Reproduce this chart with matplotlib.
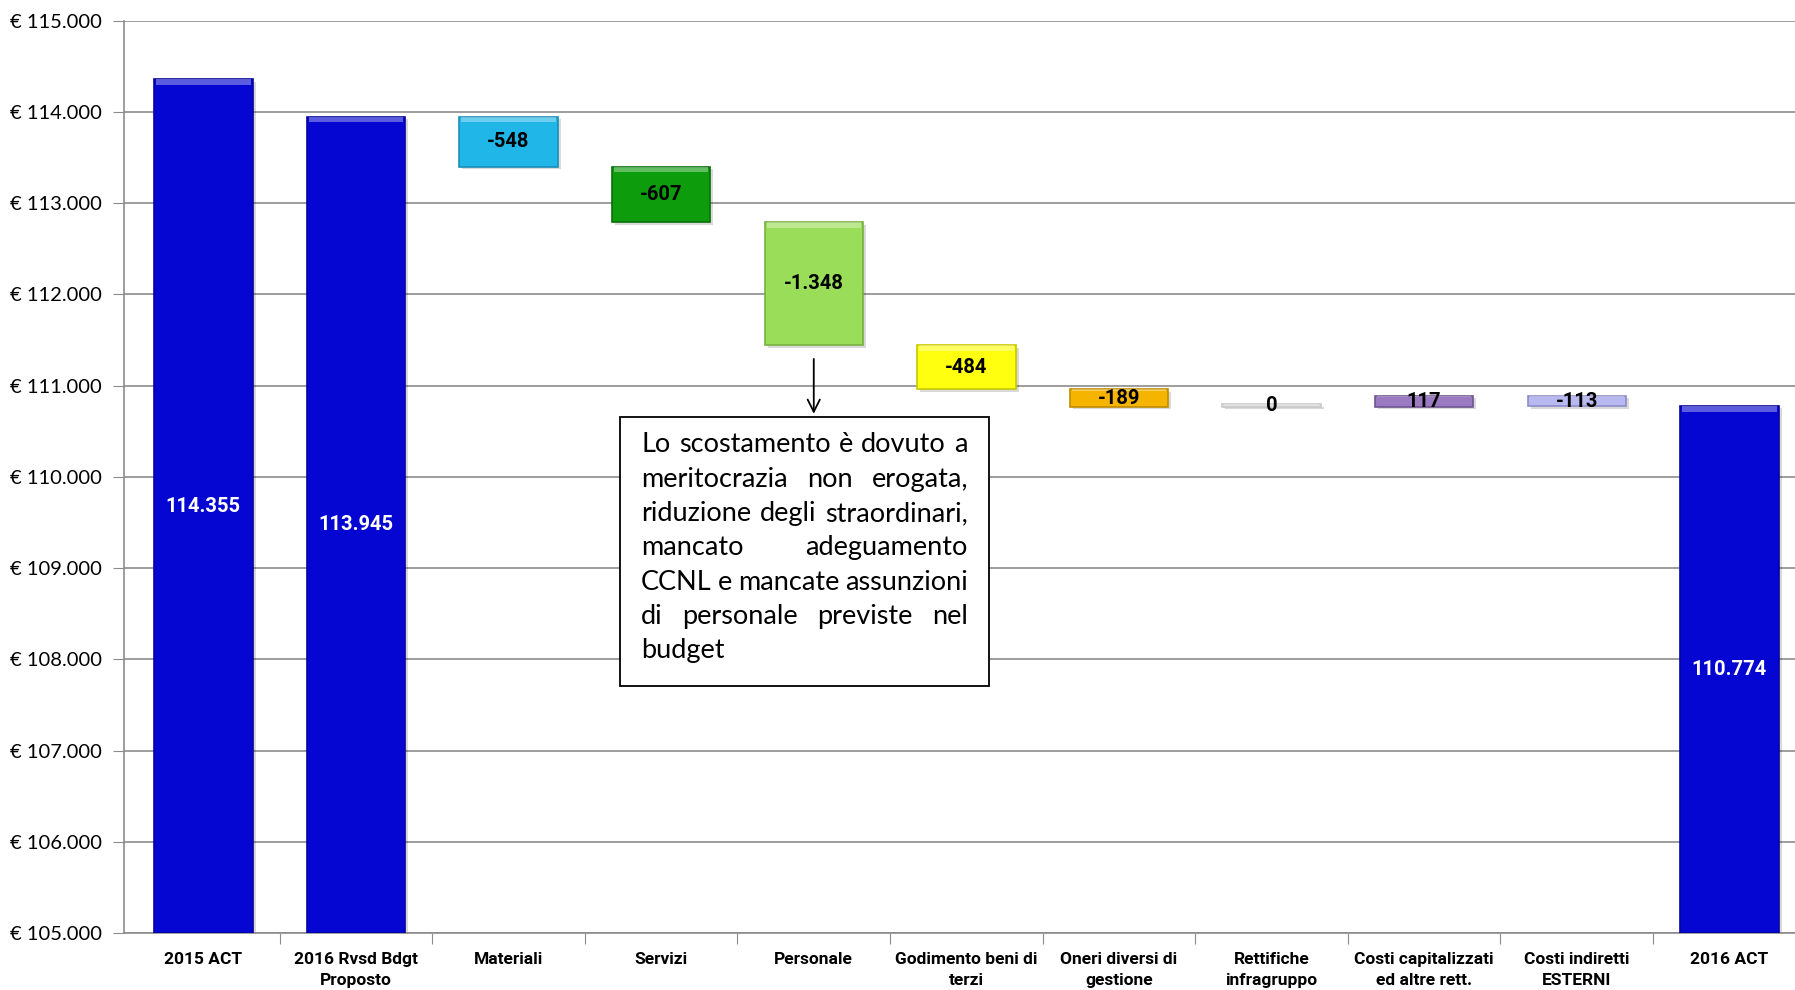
import matplotlib
matplotlib.use("Agg")
import matplotlib.pyplot as plt
from matplotlib import font_manager as fm
from matplotlib.ticker import FuncFormatter, FixedLocator
from matplotlib.patches import Rectangle

available = {f.name for f in fm.fontManager.ttflist}
FONT = "Lato" if "Lato" in available else "Open Sans"
BOLD_FONT = "Roboto" if "Roboto" in available else "Open Sans"
plt.rcParams['font.family'] = [FONT, 'DejaVu Sans']

categories = ["2015 ACT", "2016 Rvsd Bdgt\nProposto", "Materiali", "Servizi", "Personale",
              "Godimento beni di\nterzi", "Oneri diversi di\ngestione", "Rettifiche\ninfragruppo",
              "Costi capitalizzati\ned altre rett.", "Costi indiretti\nESTERNI", "2016 ACT"]
totals = {0: 114355, 1: 113945, 10: 110774}
deltas = {2: -548, 3: -607, 4: -1348, 5: -484, 6: -189, 7: 0, 8: 117, 9: -113}
labels = ["114.355", "113.945", "-548", "-607", "-1.348", "-484", "-189", "0", "117", "-113", "110.774"]
colors = ["#0606D2", "#0606D2", "#20B6E8", "#0C9C0C", "#9ADD58", "#FFFF10",
          "#F4B400", "#E2E2E2", "#9A7BC2", "#B9B9F2", "#0606D2"]
edge_colors = ["#0404A0", "#0404A0", "#1A8FB8", "#087008", "#78B040", "#C8C800",
               "#C08C00", "#C8C8C8", "#705490", "#8C8CC8", "#0404A0"]
annotation_lines = ["Lo scostamento è dovuto a", "meritocrazia non erogata,",
                    "riduzione degli straordinari,", "mancato adeguamento",
                    "CCNL e mancate assunzioni", "di personale previste nel", "budget"]
ymin, ymax = 105000, 115000

W, H = 1795, 990
fig = plt.figure(figsize=(W / 100, H / 100), dpi=100)
ax = fig.add_axes([124 / W, 1 - 933 / H, 1 - 124 / W, (933 - 20.6) / H])
ax.set_ylim(ymin, ymax)
ax.set_xlim(-0.52, 10.43)

bottoms, heights = [], []
level = None
for i in range(len(categories)):
    if i in totals:
        level = totals[i]
        bottoms.append(ymin)
        heights.append(level - ymin)
    else:
        d = deltas[i]
        new = level + d
        bottoms.append(min(level, new))
        heights.append(abs(d) if d != 0 else 25)
        level = new

xs = list(range(len(categories)))
bw = 0.645
# shadow
ax.bar([x + 0.02 for x in xs], heights, bottom=[b - 25 for b in bottoms], width=bw,
       color="#000000", alpha=0.15, zorder=2, linewidth=0)
ax.bar(xs, heights, bottom=bottoms, width=bw, color=colors, edgecolor=edge_colors,
       linewidth=1.2, zorder=3)
# top highlight (bevel)
hl = [min(h * 0.12, 60) for h in heights]
ax.bar(xs, hl, bottom=[b + h - t for b, h, t in zip(bottoms, heights, hl)], width=bw * 0.96,
       color="white", alpha=0.35, linewidth=0, zorder=4)

for i, (x, b, h, lab) in enumerate(zip(xs, bottoms, heights, labels)):
    col = "white" if i in totals else "black"
    ax.text(x, b + h / 2, lab, ha="center", va="center", color=col,
            fontsize=14.5, fontweight="bold", family=[BOLD_FONT, "DejaVu Sans"], zorder=5)

# axes styling
ax.yaxis.set_major_locator(FixedLocator(range(ymin, ymax + 1, 1000)))
ax.yaxis.set_major_formatter(FuncFormatter(lambda v, p: "€ " + f"{int(v):,}".replace(",", ".")))
ax.grid(axis="y", color="#8C8C8C", linewidth=1.2, zorder=0)
ax.set_axisbelow(True)
for s in ["top", "right"]:
    ax.spines[s].set_visible(False)
for s in ["left", "bottom"]:
    ax.spines[s].set_color("#8C8C8C")
    ax.spines[s].set_linewidth(1.2)
ax.tick_params(axis="y", length=8, color="#8C8C8C", labelsize=14.5, pad=8)
ax.set_xticks([x + 0.5 for x in xs[:-1]])
ax.set_xticklabels([])
ax.tick_params(axis="x", length=8, color="#8C8C8C")
ax.set_xticks(xs, minor=True)
ax.set_xticklabels(categories, minor=True, fontsize=12.5, fontweight="bold",
                   family=[BOLD_FONT, "DejaVu Sans"], linespacing=1.5)
ax.tick_params(axis="x", which="minor", length=0, pad=14)

# arrow from Personale bar
pi = 4
ax.annotate("", xy=(pi, 110660), xytext=(pi, bottoms[pi] - 120),
            arrowprops=dict(arrowstyle="->", color="black", lw=1.3, mutation_scale=22), zorder=6)

# annotation box (pixel coords)
bx0, by0, bx1, by1 = 620, 417, 989, 686
fig.patches.append(Rectangle((bx0 / W, 1 - by1 / H), (bx1 - bx0) / W, (by1 - by0) / H,
                             transform=fig.transFigure, facecolor="white", edgecolor="black",
                             linewidth=1.3, zorder=10))
tx0, tx1 = 641, 968
line_y0, dy = 445, 34.3
renderer = fig.canvas.get_renderer()

def width_px(s, size):
    t = fig.text(0, 0, s, fontsize=size)
    w = t.get_window_extent(renderer).width
    t.remove()
    return w

fs = 17
fs = fs * 324 / width_px("riduzione degli straordinari,", fs)
for li, line in enumerate(annotation_lines):
    words = line.split(" ")
    y = 1 - (line_y0 + li * dy) / H
    widths = [width_px(w, fs) for w in words]
    last = li == len(annotation_lines) - 1
    if last or len(words) == 1:
        fig.text(tx0 / W, y, line, fontsize=fs, va="center", ha="left", zorder=11)
        continue
    gap = (tx1 - tx0 - sum(widths)) / (len(words) - 1)
    x = tx0
    for w, wd in zip(words, widths):
        fig.text(x / W, y, w, fontsize=fs, va="center", ha="left", zorder=11)
        x += wd + gap

fig.savefig("out.png", dpi=100)
